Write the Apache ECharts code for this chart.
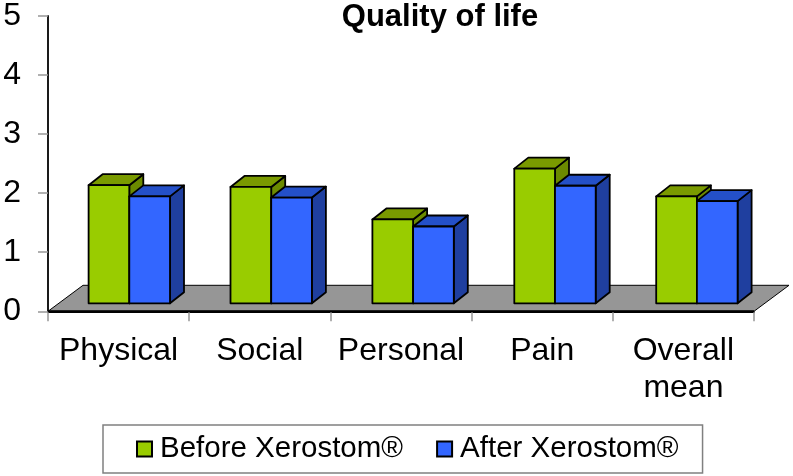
<!DOCTYPE html>
<html>
<head>
<meta charset="utf-8">
<style>html,body{margin:0;padding:0;background:#fff}#c{width:793px;height:476px}</style>
<script src="https://cdn.jsdelivr.net/npm/echarts@6/dist/echarts.min.js"></script>
</head>
<body>
<div id="c"></div>
<script>
const categories = ['Physical', 'Social', 'Personal', 'Pain', 'Overall\nmean'];
const yTicks = [0, 1, 2, 3, 4, 5];
const beforeValues = [2.0, 1.97, 1.42, 2.28, 1.81];
const afterValues = [1.81, 1.79, 1.30, 1.99, 1.73];
const seriesNames = ['Before Xerostom\u00AE', 'After Xerostom\u00AE'];
const FONT = '"Liberation Sans", Arial, sans-serif';

// oblique-projection styling
const floorDepth = [35, -26];
const barDepth = [14, -11];
const barInset = [10.7, -8];
const barDrift = 0.7;
const barWidth = 40.7;

const chart = echarts.init(document.getElementById('c'), null, {renderer: 'canvas'});

function floorItem(params, api) {
  const cs = params.coordSys;
  const x0 = cs.x, x1 = cs.x + cs.width, y = cs.y + cs.height;
  return {
    type: 'group',
    children: [
      {type: 'polygon', shape: {points: [[x0, y], [x1, y], [x1 + floorDepth[0], y + floorDepth[1]], [x0 + floorDepth[0], y + floorDepth[1]]]},
        style: {fill: '#969696', stroke: '#000', lineWidth: 1}},
      {type: 'line', shape: {x1: x0, y1: y, x2: x1, y2: y}, style: {stroke: '#000', lineWidth: 2}}
    ]
  };
}

function barRenderer(slot, front, top, side) {
  return function (params, api) {
    const idx = api.value(0);
    const base = api.coord([idx, 0]);
    const tip = api.coord([idx, api.value(1)]);
    const x0 = base[0] + barInset[0] + idx * barDrift + (slot - 1) * barWidth;
    const x1 = x0 + barWidth;
    const yb = base[1] + barInset[1];
    const yt = tip[1] + barInset[1];
    const dx = barDepth[0], dy = barDepth[1];
    const stroke = {stroke: '#000', lineWidth: 1.8, lineJoin: 'round'};
    return {
      type: 'group',
      children: [
        {type: 'polygon', shape: {points: [[x1, yb], [x1 + dx, yb + dy], [x1 + dx, yt + dy], [x1, yt]]}, style: Object.assign({fill: side}, stroke)},
        {type: 'polygon', shape: {points: [[x0, yt], [x1, yt], [x1 + dx, yt + dy], [x0 + dx, yt + dy]]}, style: Object.assign({fill: top}, stroke)},
        {type: 'polygon', shape: {points: [[x0, yb], [x1, yb], [x1, yt], [x0, yt]]}, style: Object.assign({fill: front}, stroke)}
      ]
    };
  };
}

function toData(values) { return values.map((v, i) => [i, v]); }

chart.setOption({
  animation: false,
  backgroundColor: '#fff',
  title: {
    text: 'Quality of life', left: 435, top: -3, textAlign: 'center',
    textStyle: {fontFamily: FONT, fontSize: 31, fontWeight: 'bold', color: '#000'}
  },
  grid: {left: 48, right: 39, top: 14.5, bottom: 164.7, containLabel: false},
  legend: {
    left: 103, top: 425,
    data: seriesNames,
    itemWidth: 15, itemHeight: 15, itemGap: 33,
    padding: [9, 24, 9, 33],
    borderColor: '#808080', borderWidth: 1.5, backgroundColor: '#fff',
    textStyle: {fontFamily: FONT, fontSize: 29.5, color: '#000', padding: [0, 0, 0, 3]},
    icon: 'rect', selectedMode: false
  },
  xAxis: {
    type: 'category', data: categories,
    axisLine: {show: true, lineStyle: {color: '#000', width: 2}},
    axisTick: {show: true, alignWithLabel: false, length: 10, lineStyle: {color: '#969696', width: 1.5}},
    axisLabel: {interval: 0, margin: 21, fontFamily: FONT, fontSize: 32, color: '#000', lineHeight: 37}
  },
  yAxis: {
    type: 'value', min: yTicks[0], max: yTicks[yTicks.length - 1], interval: 1,
    splitLine: {show: false},
    axisLine: {show: true, lineStyle: {color: '#1a1a1a', width: 2}},
    axisTick: {show: true, length: 10, lineStyle: {color: '#969696', width: 1.5}},
    axisLabel: {margin: 27, fontFamily: FONT, fontSize: 32, color: '#000'}
  },
  series: [
    {type: 'custom', name: 'floor', silent: true, data: [[0, 0]], renderItem: floorItem, clip: false, z: 1,
      encode: {x: 0, y: 1}},
    {type: 'custom', name: seriesNames[0], data: toData(beforeValues), clip: false, z: 2,
      itemStyle: {color: '#99CC00', borderColor: '#000', borderWidth: 1.5},
      encode: {x: 0, y: 1},
      renderItem: barRenderer(0, '#99CC00', '#7A9A00', '#6B8A00')},
    {type: 'custom', name: seriesNames[1], data: toData(afterValues), clip: false, z: 3,
      itemStyle: {color: '#3366FF', borderColor: '#000', borderWidth: 1.5},
      encode: {x: 0, y: 1},
      renderItem: barRenderer(1, '#3366FF', '#2450C8', '#1F3F9F')}
  ]
});
</script>
</body>
</html>
